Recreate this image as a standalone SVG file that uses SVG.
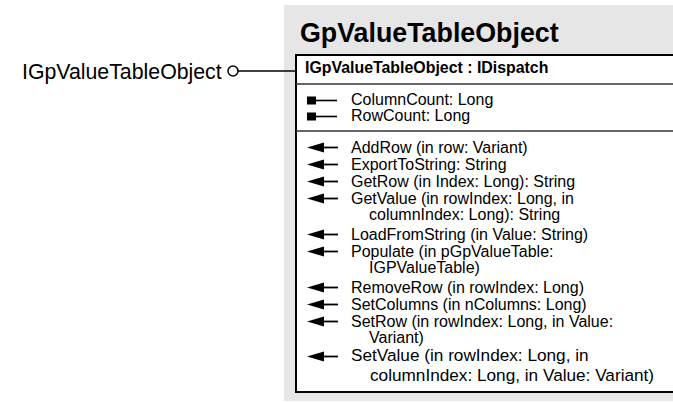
<svg xmlns="http://www.w3.org/2000/svg" width="673" height="403" viewBox="0 0 673 403">
  <style>
    text { font-family: "Liberation Sans", Arial, sans-serif; fill: #000; }
    .title { font-size: 26.8px; font-weight: bold; }
    .iface { font-size: 15.9px; font-weight: bold; }
    .member { font-size: 16px; }
    .member-lg { font-size: 17.2px; }
    .label { font-size: 21.3px; }
    .divider { stroke: #333; stroke-width: 1.5; }
  </style>
  <defs>
    <!-- property glyph: filled square with a short stem -->
    <g id="prop">
      <rect x="0" y="-4.5" width="9" height="8" fill="#000"/>
      <line x1="9" y1="-0.5" x2="30" y2="-0.5" stroke="#000" stroke-width="1.6"/>
    </g>
    <!-- method glyph: arrow pointing left -->
    <g id="method">
      <polygon points="0,-0.5 17,-5.5 17,4.5" fill="#000"/>
      <line x1="15" y1="-0.5" x2="31" y2="-0.5" stroke="#000" stroke-width="1.8"/>
    </g>
  </defs>

  <!-- class panel -->
  <g id="GpValueTableObject">
    <rect x="284" y="5" width="400" height="396" fill="#e6e6e6"/>
    <text class="title" x="300" y="42">GpValueTableObject</text>
    <rect x="296" y="55" width="390" height="337" fill="#fff" stroke="#000" stroke-width="2"/>
    <text class="iface" x="305" y="73">IGpValueTableObject : IDispatch</text>
    <line class="divider" x1="296" y1="84" x2="680" y2="84"/>
    <line class="divider" x1="296" y1="131" x2="680" y2="131"/>

    <use href="#prop" x="307" y="101"/>
    <use href="#prop" x="307" y="117"/>
    <text class="member" x="351" y="105">ColumnCount: Long</text>
    <text class="member" x="351" y="121">RowCount: Long</text>

    <use href="#method" x="307" y="148"/>
    <use href="#method" x="307" y="165"/>
    <use href="#method" x="307" y="182"/>
    <use href="#method" x="307" y="199"/>
    <use href="#method" x="307" y="235"/>
    <use href="#method" x="307" y="252"/>
    <use href="#method" x="307" y="288"/>
    <use href="#method" x="307" y="305"/>
    <use href="#method" x="307" y="322"/>
    <use href="#method" x="307" y="357"/>

    <text class="member" x="351" y="153">AddRow (in row: Variant)</text>
    <text class="member" x="351" y="170">ExportToString: String</text>
    <text class="member" x="351" y="187">GetRow (in Index: Long): String</text>
    <text class="member" x="351" y="204">GetValue (in rowIndex: Long, in</text>
    <text class="member" x="369" y="220">columnIndex: Long): String</text>
    <text class="member" x="351" y="240">LoadFromString (in Value: String)</text>
    <text class="member" x="351" y="257">Populate (in pGpValueTable:</text>
    <text class="member" x="369" y="273">IGPValueTable)</text>
    <text class="member" x="351" y="293">RemoveRow (in rowIndex: Long)</text>
    <text class="member" x="351" y="310">SetColumns (in nColumns: Long)</text>
    <text class="member" x="351" y="327">SetRow (in rowIndex: Long, in Value:</text>
    <text class="member" x="369" y="343">Variant)</text>
    <text class="member-lg" x="351" y="361">SetValue (in rowIndex: Long, in</text>
    <text class="member-lg" x="370" y="380.5">columnIndex: Long, in Value: Variant)</text>
  </g>

  <!-- exposed interface lollipop -->
  <g id="IGpValueTableObject">
    <text class="label" x="22" y="79">IGpValueTableObject</text>
  </g>
  <g id="connectors">
    <circle cx="233" cy="71" r="5" fill="#fff" stroke="#000" stroke-width="1.5"/>
    <line x1="238" y1="71" x2="296" y2="71" stroke="#000" stroke-width="1.5"/>
  </g>
</svg>
